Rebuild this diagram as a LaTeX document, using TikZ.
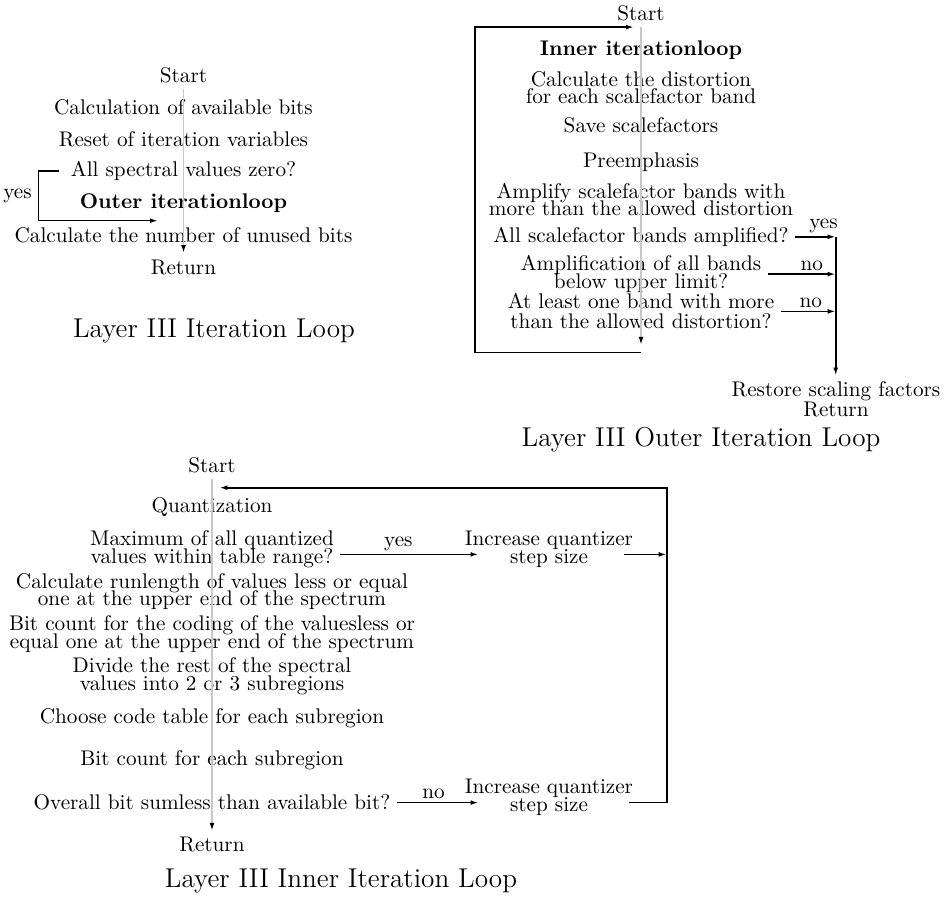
\documentclass[tikz,border=0pt]{standalone}
\usepackage{tikz}
\usetikzlibrary{arrows.meta, positioning}
\definecolor{flowgray}{HTML}{C8C8C8}
\setlength{\lineskiplimit}{-20pt}

\begin{document}
\begin{tikzpicture}[x=0.5pt, y=-0.5pt,
  font=\fontsize{10.6}{8.9}\selectfont,
  align=center, inner sep=3pt,
  node distance=16pt, on grid,
  capt/.style={font=\fontsize{13.6}{16}\selectfont},
  ln/.style={draw=black, line width=0.8pt},
  a/.style={ln, -{Latex[length=4pt,width=2.4pt]}},
  flow/.style={draw=flowgray, line width=0.8pt, -{Latex[length=4pt,width=2.4pt,color=black]}},
  lab/.style={above, inner sep=1.5pt}]
\useasboundingbox (0,0) rectangle (946,897);

\node (start1) at (183.5,75) {Start};
\node[below=of start1] (avail) {Calculation of available bits};
\node[below=of avail] (reset) {Reset of iteration variables};
\node[below=of reset] (zero) {All spectral values zero?};
\node[below=of zero] (outer) {\textbf{Outer iterationloop}};
\node[below=of outer] (unused) {Calculate the number of unused bits};
\node[below=of unused] (ret1) {Return};
\node[capt] (cap1) at (214,331) {Layer III Iteration Loop};
\coordinate (skip1) at (158,220.7);
\draw[flow] (start1) -- (ret1);
\draw[a] ([xshift=-2.5pt]zero.west) -- ++(-21,0) |- node[pos=.25,left]{yes} (skip1);

\begin{scope}[node distance=18.65pt]
\node (start2) at (641,13) {Start};
\node[below=of start2] (inner) {\textbf{Inner iterationloop}};
\node[below=of inner] (dist) {Calculate the distortion\\for each scalefactor band};
\node[below=of dist] (save) {Save scalefactors};
\node[below=of save] (pre) {Preemphasis};
\node[below=of pre] (ampl) {Amplify scalefactor bands with\\more than the allowed distortion};
\node[below=of ampl] (allamp) {All scalefactor bands amplified?};
\node[below=of allamp] (limit) {Amplification of all bands\\below upper limit?};
\node[below=of limit] (more) {At least one band with more\\[1pt]than the allowed distortion?};
\end{scope}
\node (restore) at (836,391.7) {Restore scaling factors};
\node[below=9pt of restore] (ret2) {Return};
\node[capt] (cap2) at (701,440) {Layer III Outer Iteration Loop};
\coordinate (end2) at (641,345);
\coordinate (barx) at (835.7,0);
\coordinate (bar) at (allamp.east -| barx);
\draw[flow] (start2) -- (end2);
\draw[a] ([yshift=-3.85pt]end2) -- ++(-166,0) |- ([xshift=-3.5pt]start2.south);
\draw[a] (allamp) -- node[lab,pos=.7]{yes} (bar);
\draw[a] (limit) -- node[lab,pos=.65]{no} (limit -| barx);
\draw[a] (more) -- node[lab,pos=.55]{no} (more -| barx);
\draw[a] (bar) -- (bar |- restore.north);

\begin{scope}[node distance=21.1pt]
\node (start3) at (212,465) {Start};
\node[below=of start3] (quant) {Quantization};
\node[below=of quant] (range) {Maximum of all quantized\\values within table range?};
\node[below=of range] (runlen) {Calculate runlength of values less or equal\\one at the upper end of the spectrum};
\node[below=of runlen] (coding) {Bit count for the coding of the valuesless or\\equal one at the upper end of the spectrum};
\node[below=of coding] (divide) {Divide the rest of the spectral\\values into 2 or 3 subregions};
\node[below=of divide] (table) {Choose code table for each subregion};
\node[below=of table] (count) {Bit count for each subregion};
\node[below=of count] (sum) {Overall bit sumless than available bit?};
\node[below=of sum] (ret3) {Return};
\end{scope}
\node[right=168.5pt of range] (step1) {Increase quantizer\\step size};
\node[right=168.5pt of sum, yshift=2.5pt] (step2) {Increase quantizer\\step size};
\node[capt] (cap3) at (341,881) {Layer III Inner Iteration Loop};
\coordinate (loopx) at (666.7,0);
\coordinate (back3) at (219.3,487.7);
\draw[flow] (start3) -- (ret3);
\draw[a] ([yshift=-2.5pt]range.east) -- node[lab,pos=.42]{yes} ([xshift=10pt,yshift=-2.5pt]step1.west);
\draw[a] ([xshift=-7.5pt,yshift=-2.5pt]step1.east) coordinate (out1) -- (out1 -| loopx);
\draw[a] (sum.east) -- node[lab,pos=.45]{no} ([xshift=10pt]sum.east -| step2.west);
\draw[a] ([xshift=-5pt,yshift=-2.5pt]step2.east) -| (loopx |- back3) -- (back3);
\end{tikzpicture}
\end{document}
